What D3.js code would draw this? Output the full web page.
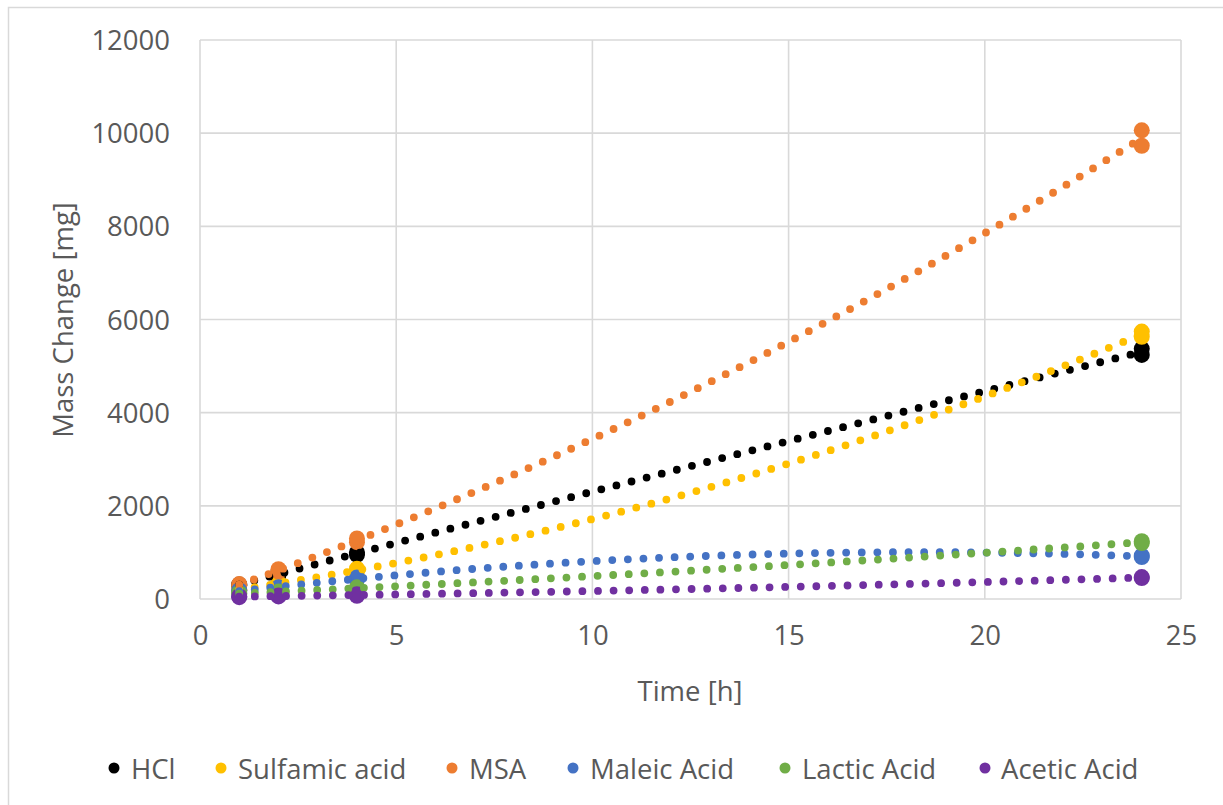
<!DOCTYPE html>
<html>
<head>
<meta charset="utf-8">
<script src="https://cdn.jsdelivr.net/npm/d3@7"></script>
<style>
  html, body { margin: 0; padding: 0; background: #fff; }
  svg { display: block; }
  text { font-family: "Open Sans", "Noto Sans", sans-serif; fill: #595959; }
</style>
</head>
<body>
<svg id="chart" width="1223" height="805"></svg>
<script>
// Sampling times (h) and measured mass change (mg), two replicates per time
const times = [1, 1, 2, 2, 4, 4, 24, 24];
const seriesNames = ["HCl", "Sulfamic acid", "MSA", "Maleic Acid", "Lactic Acid", "Acetic Acid"];
const seriesColors = ["#000000", "#FFC000", "#ED7D31", "#4472C4", "#70AD47", "#7030A0"];
const hcl      = [290, 310, 520, 580, 950, 1000, 5240, 5370];
const sulfamic = [190, 210, 320, 350, 580, 650, 5630, 5740];
const msa      = [290, 320, 590, 640, 1220, 1300, 9730, 10060];
const maleic   = [170, 190, 230, 250, 420, 460, 900, 930];
const lactic   = [110, 130, 140, 160, 220, 250, 1200, 1240];
const acetic   = [40, 60, 55, 75, 70, 100, 450, 470];
const seriesValues = [hcl, sulfamic, msa, maleic, lactic, acetic];
const xTicks = [0, 5, 10, 15, 20, 25];
const yTicks = [0, 2000, 4000, 6000, 8000, 10000, 12000];

const FONT = 27.5;
const svg = d3.select("#chart");

// outer chart frame
svg.append("rect")
  .attr("x", 8.5).attr("y", 7.5)
  .attr("width", 1240).attr("height", 820)
  .attr("fill", "none").attr("stroke", "#d9d9d9").attr("stroke-width", 1.5);

const x = d3.scaleLinear().domain([0, 25]).range([200, 1181]);
const y = d3.scaleLinear().domain([0, 12000]).range([599, 40]);

// gridlines
const grid = svg.append("g");
grid.selectAll("line.v").data(xTicks).join("line")
  .attr("x1", d => x(d)).attr("x2", d => x(d))
  .attr("y1", y(0)).attr("y2", y(12000))
  .attr("stroke", "#d9d9d9").attr("stroke-width", 1.6);
grid.selectAll("line.h").data(yTicks).join("line")
  .attr("x1", x(0)).attr("x2", x(25))
  .attr("y1", d => y(d)).attr("y2", d => y(d))
  .attr("stroke", "#d9d9d9").attr("stroke-width", 1.6);

// axes (labels only; lines come from the grid)
const xAxis = svg.append("g").attr("transform", `translate(0,${y(0)})`)
  .call(d3.axisBottom(x).tickValues(xTicks).tickSize(0).tickPadding(36));
const yAxis = svg.append("g").attr("transform", `translate(${x(0)},0)`)
  .call(d3.axisLeft(y).tickValues(yTicks).tickSize(0).tickPadding(30).tickFormat(d3.format("d")));
[xAxis, yAxis].forEach(a => {
  a.select(".domain").remove();
  a.selectAll("text").attr("font-size", FONT).attr("fill", "#595959")
    .style("font-family", "'Open Sans', sans-serif");
});
yAxis.selectAll("text").attr("dy", "0.35em");
xAxis.selectAll("text").attr("dy", "0.35em");

// axis titles
svg.append("text").attr("x", 690).attr("y", 690)
  .attr("text-anchor", "middle").attr("dominant-baseline", "central")
  .attr("font-size", FONT).text("Time [h]");
svg.append("text")
  .attr("transform", "translate(62,320) rotate(-90)")
  .attr("text-anchor", "middle").attr("dominant-baseline", "central")
  .attr("font-size", FONT).text("Mass Change [mg]");

// least-squares second-order polynomial trendline
function polyFit2(xs, ys) {
  let s = [0, 0, 0, 0, 0], t = [0, 0, 0];
  xs.forEach((xv, i) => {
    const yv = ys[i];
    for (let k = 0; k < 5; k++) s[k] += Math.pow(xv, k);
    for (let k = 0; k < 3; k++) t[k] += yv * Math.pow(xv, k);
  });
  const A = [[s[0], s[1], s[2]], [s[1], s[2], s[3]], [s[2], s[3], s[4]]];
  const b = t.slice();
  // Gaussian elimination
  for (let i = 0; i < 3; i++) {
    for (let j = i + 1; j < 3; j++) {
      const f = A[j][i] / A[i][i];
      for (let k = i; k < 3; k++) A[j][k] -= f * A[i][k];
      b[j] -= f * b[i];
    }
  }
  const c = [0, 0, 0];
  for (let i = 2; i >= 0; i--) {
    let sum = b[i];
    for (let k = i + 1; k < 3; k++) sum -= A[i][k] * c[k];
    c[i] = sum / A[i][i];
  }
  return tv => c[0] + c[1] * tv + c[2] * tv * tv;
}

// data markers
const markers = svg.append("g");
seriesValues.forEach((vals, si) => {
  markers.append("g").selectAll("circle")
    .data(vals.map((v, i) => ({ t: times[i], v })))
    .join("circle")
    .attr("cx", d => x(d.t)).attr("cy", d => y(d.v))
    .attr("r", 8).attr("fill", seriesColors[si]);
});

// dotted trendlines
const tMin = d3.min(times), tMax = d3.max(times);
const samples = d3.range(0, 401).map(i => tMin + (tMax - tMin) * i / 400);
const lineGen = d3.line().x(d => x(d[0])).y(d => y(d[1]));
const trends = svg.append("g");
seriesValues.forEach((vals, si) => {
  const f = polyFit2(times, vals);
  trends.append("path")
    .attr("d", lineGen(samples.map(tv => [tv, f(tv)])))
    .attr("fill", "none")
    .attr("stroke", seriesColors[si])
    .attr("stroke-width", 7.8)
    .attr("stroke-linecap", "round")
    .attr("stroke-dasharray", "0 15.6");
});

// legend
const legendItems = [
  { dot: 114, text: 131 }, { dot: 221, text: 238 }, { dot: 452, text: 469 },
  { dot: 573, text: 590 }, { dot: 785, text: 802 }, { dot: 985, text: 1001 }
];
const legend = svg.append("g");
seriesNames.forEach((name, i) => {
  legend.append("circle").attr("cx", legendItems[i].dot).attr("cy", 768)
    .attr("r", 5.5).attr("fill", seriesColors[i]);
  legend.append("text").attr("x", legendItems[i].text).attr("y", 768)
    .attr("dominant-baseline", "central").attr("font-size", FONT).text(name);
});
</script>
</body>
</html>
